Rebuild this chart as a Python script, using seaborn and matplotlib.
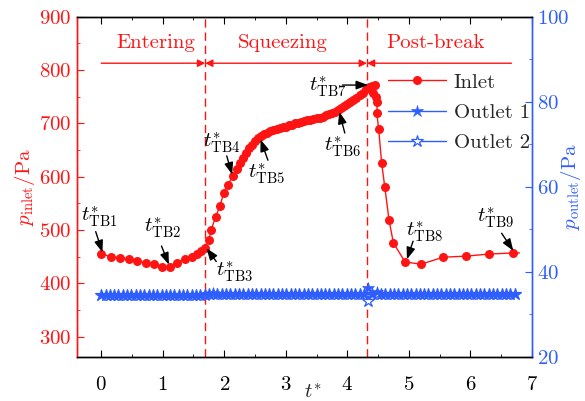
import matplotlib
matplotlib.use("Agg")
import matplotlib.pyplot as plt
import seaborn as sns
from matplotlib.ticker import MultipleLocator

# ---- data -------------------------------------------------------------
t_inlet = [0.00, 0.16, 0.31, 0.45, 0.58, 0.72, 0.85, 0.98, 1.11, 1.23, 1.36, 1.48,
           1.56, 1.63, 1.69, 1.75, 1.79, 1.86, 1.93, 1.99, 2.06, 2.14, 2.20, 2.25,
           2.30, 2.35, 2.40, 2.45, 2.50, 2.55, 2.60, 2.65, 2.70, 2.75, 2.80, 2.85,
           2.90, 2.95, 3.00, 3.05, 3.10, 3.15, 3.20, 3.25, 3.30, 3.35, 3.40, 3.45,
           3.50, 3.55, 3.60, 3.65, 3.70, 3.75, 3.80, 3.85, 3.90, 3.95, 4.00, 4.05,
           4.10, 4.15, 4.20, 4.25, 4.30, 4.35, 4.40, 4.45, 4.42, 4.46, 4.49, 4.48,
           4.51, 4.56, 4.61, 4.68, 4.75, 4.94, 5.20, 5.56, 5.93, 6.31, 6.70, 6.80]
p_inlet = [455, 450, 448, 445, 442, 439, 436, 431, 430, 439, 445, 450,
           455, 461, 467, 481, 501, 525, 545, 569, 585, 601, 615, 626,
           636, 645, 653, 660, 667, 673, 677, 680, 682, 685, 688, 689,
           692, 693, 694, 697, 698, 700, 701, 703, 704, 706, 707, 708,
           710, 711, 713, 715, 717, 719, 722, 726, 729, 732, 736, 740,
           744, 748, 753, 758, 764, 768, 771, 772, 758, 750, 741, 720,
           690, 625, 581, 518, 476, 440, 436, 449, 451, 455, 457, 457]

t_outlet = [0.00, 0.07, 0.14, 0.21, 0.28, 0.35, 0.42, 0.49, 0.56, 0.63, 0.70, 0.77,
            0.84, 0.91, 0.98, 1.05, 1.12, 1.19, 1.26, 1.33, 1.40, 1.47, 1.54, 1.61,
            1.68, 1.75, 1.82, 1.89, 1.96, 2.03, 2.10, 2.17, 2.24, 2.31, 2.38, 2.45,
            2.52, 2.59, 2.66, 2.73, 2.80, 2.87, 2.94, 3.01, 3.08, 3.15, 3.22, 3.29,
            3.36, 3.43, 3.50, 3.57, 3.64, 3.71, 3.78, 3.85, 3.92, 3.99, 4.06, 4.13,
            4.20, 4.27, 4.34, 4.41, 4.48, 4.55, 4.62, 4.69, 4.76, 4.83, 4.90, 4.97,
            5.04, 5.11, 5.18, 5.25, 5.32, 5.39, 5.46, 5.53, 5.60, 5.67, 5.74, 5.81,
            5.88, 5.95, 6.02, 6.09, 6.16, 6.23, 6.30, 6.37, 6.44, 6.51, 6.58, 6.65,
            6.72]
p_outlet1 = [34.6, 34.6, 34.6, 34.6, 34.6, 34.6, 34.6, 34.6, 34.6, 34.6, 34.6, 34.6,
             34.6, 34.6, 34.6, 34.6, 34.6, 34.6, 34.6, 34.6, 34.6, 34.6, 34.6, 34.6,
             34.7, 34.9, 35.0, 34.9, 34.9, 34.9, 34.9, 34.9, 34.9, 34.9, 34.9, 34.9,
             34.9, 34.9, 34.9, 34.9, 34.9, 34.9, 34.9, 34.9, 34.9, 34.9, 34.9, 34.9,
             34.9, 34.9, 34.9, 34.9, 34.9, 34.9, 34.9, 34.9, 34.9, 34.9, 34.9, 34.9,
             34.9, 34.9, 36.2, 34.9, 35.3, 34.9, 34.9, 34.9, 34.9, 34.9, 34.9, 34.9,
             34.9, 34.9, 34.9, 34.9, 34.9, 34.9, 34.9, 34.9, 34.9, 34.9, 34.9, 34.9,
             34.9, 34.9, 34.9, 34.9, 34.9, 34.9, 34.9, 34.9, 34.9, 34.9, 34.9, 34.9,
             34.9]
p_outlet2 = [34.6, 34.6, 34.6, 34.6, 34.6, 34.6, 34.6, 34.6, 34.6, 34.6, 34.6, 34.6,
             34.6, 34.6, 34.6, 34.6, 34.6, 34.6, 34.6, 34.6, 34.6, 34.6, 34.6, 34.6,
             34.6, 34.8, 34.8, 34.8, 34.8, 34.8, 34.8, 34.8, 34.8, 34.8, 34.8, 34.8,
             34.8, 34.8, 34.8, 34.8, 34.8, 34.8, 34.8, 34.8, 34.8, 34.8, 34.8, 34.8,
             34.8, 34.8, 34.8, 34.8, 34.8, 34.8, 34.8, 34.8, 34.8, 34.8, 34.8, 34.8,
             34.8, 34.8, 33.1, 34.8, 34.8, 34.8, 34.8, 34.8, 34.8, 34.8, 34.8, 34.8,
             34.8, 34.8, 34.8, 34.8, 34.8, 34.8, 34.8, 34.8, 34.8, 34.8, 34.8, 34.8,
             34.8, 34.8, 34.8, 34.8, 34.8, 34.8, 34.8, 34.8, 34.8, 34.8, 34.8, 34.8,
             34.8]

# stage boundaries and stage names
t_bounds = [1.69, 4.32]
stage_names = ["Entering", "Squeezing", "Post-break"]
stage_x = [0.88, 2.95, 5.43]

# characteristic moments: label, arrow tip on the curve, arrow tail, text centre
tb_labels = ["TB1", "TB2", "TB3", "TB4", "TB5", "TB6", "TB7", "TB8", "TB9"]
tb_tips = [(0.02, 458), (1.10, 435), (1.71, 466), (2.13, 604), (2.59, 670),
           (3.87, 722), (4.34, 772), (4.97, 445), (6.70, 461)]
tb_tails = [(-0.09, 497), (0.98, 470), (1.87, 441), (2.04, 639), (2.71, 631),
            (3.96, 682), (3.92, 772), (5.07, 479), (6.51, 494)]
tb_text = [(-0.04, 524), (1.00, 504), (2.17, 422), (1.95, 663), (2.69, 606),
           (3.93, 656), (3.69, 769), (5.25, 497), (6.41, 522)]

RED = "#ff1414"
BLUE = "#2f5eff"
FS = 15

# ---- style ------------------------------------------------------------
sns.set_style("ticks")
plt.rcParams.update({
    "font.family": "serif",
    "font.serif": ["cmr10", "DejaVu Serif"],
    "mathtext.fontset": "cm",
    "axes.formatter.use_mathtext": True,
    "font.size": FS,
    "xtick.direction": "in",
    "ytick.direction": "in",
    "axes.linewidth": 1.0,
})

fig = plt.figure(figsize=(5.85, 4.01), dpi=100)
ax = fig.add_axes([0.131, 0.110, 0.778, 0.848])
ax2 = ax.twinx()

# inlet pressure (left axis)
n_in = len(t_inlet)
sns.lineplot(x=t_inlet, y=p_inlet, ax=ax, sort=False, estimator=None,
             color=RED, lw=1.0, marker="o", markersize=6.5, markeredgewidth=0,
             markevery=list(range(n_in - 1)), label="Inlet", legend=False)

# outlet pressures (right axis)
sns.lineplot(x=t_outlet, y=p_outlet2, ax=ax2, sort=False, estimator=None,
             color=BLUE, lw=1.0, marker="*", markersize=9,
             markerfacecolor="white", markeredgecolor=BLUE, markeredgewidth=0.9,
             label="Outlet 2", legend=False)
sns.lineplot(x=t_outlet, y=p_outlet1, ax=ax2, sort=False, estimator=None,
             color=BLUE, lw=1.0, marker="*", markersize=9,
             markeredgecolor=BLUE, markeredgewidth=0.5,
             label="Outlet 1", legend=False)

# axis ranges and ticks
ax.set_xlim(-0.4, 7.0)
ax.set_ylim(262, 900)
ax2.set_ylim(20, 100)
ax.xaxis.set_major_locator(MultipleLocator(1))
ax.xaxis.set_minor_locator(MultipleLocator(0.5))
ax.yaxis.set_major_locator(MultipleLocator(100))
ax.yaxis.set_minor_locator(MultipleLocator(50))
ax2.yaxis.set_major_locator(MultipleLocator(20))
ax2.yaxis.set_minor_locator(MultipleLocator(10))

ax.tick_params(axis="x", which="both", top=True, bottom=True, colors="black",
               labelsize=FS)
ax.tick_params(axis="x", which="major", length=5, pad=14)
ax.tick_params(axis="x", which="minor", length=2.5)
ax.tick_params(axis="y", which="both", colors=RED, labelcolor=RED, labelsize=FS)
ax.tick_params(axis="y", which="major", length=5)
ax.tick_params(axis="y", which="minor", length=2.5)
ax2.tick_params(axis="y", which="both", colors=BLUE, labelcolor=BLUE, labelsize=FS)
ax2.tick_params(axis="y", which="major", length=5)
ax2.tick_params(axis="y", which="minor", length=2.5)

for a in (ax, ax2):
    a.spines["left"].set_color(RED)
    a.spines["right"].set_color(BLUE)
    a.spines["top"].set_color("black")
    a.spines["bottom"].set_color("black")
    for s in a.spines.values():
        s.set_visible(True)
        s.set_linewidth(1.0)

ax.set_xlabel(r"$t^{*}$", fontsize=FS)
ax.xaxis.set_label_coords(0.519, -0.078)
ax.set_ylabel(r"$p_{\rm inlet}$/Pa", color=RED, fontsize=FS, labelpad=2)
ax2.set_ylabel(r"$p_{\rm outlet}$/Pa", color=BLUE, fontsize=FS, labelpad=-7)

# stage boundaries
for tb in t_bounds:
    ax.axvline(tb, color=RED, lw=1.0, ls=(0, (6, 3.5)), zorder=1)

y_stage = 813
arrow_kw = dict(color=RED, lw=1.0, shrinkA=0, shrinkB=0, mutation_scale=11)
ax.annotate("", xy=(t_bounds[0], y_stage), xytext=(0.0, y_stage),
            arrowprops=dict(arrowstyle="-|>", **arrow_kw))
ax.annotate("", xy=(t_bounds[1], y_stage), xytext=(t_bounds[0], y_stage),
            arrowprops=dict(arrowstyle="<|-|>", **arrow_kw))
ax.annotate("", xy=(t_bounds[1], y_stage), xytext=(6.67, y_stage),
            arrowprops=dict(arrowstyle="-|>", **arrow_kw))
for name, xs in zip(stage_names, stage_x):
    ax.text(xs, 851, name, color=RED, ha="center", va="center", fontsize=FS)

# characteristic moment annotations
for lab, tip, tail, tx in zip(tb_labels, tb_tips, tb_tails, tb_text):
    ax.text(tx[0], tx[1], r"$t^{*}_{\rm %s}$" % lab, ha="center", va="center",
            fontsize=FS, color="black", zorder=6)
    ax.annotate("", xy=tip, xytext=tail,
                arrowprops=dict(arrowstyle="-|>,head_length=0.6,head_width=0.22",
                                color="black", lw=1.0, shrinkA=0, shrinkB=0,
                                mutation_scale=12),
                zorder=6)

# combined legend
h1, l1 = ax.get_legend_handles_labels()
h2, l2 = ax2.get_legend_handles_labels()
handles = h1 + [h2[1], h2[0]]
labels = l1 + [l2[1], l2[0]]
ax2.legend(handles, labels, loc="upper left", bbox_to_anchor=(0.684, 0.835),
           frameon=False, fontsize=FS, handlelength=2.8, handletextpad=0.35,
           labelspacing=0.57, borderaxespad=0, borderpad=0)

fig.savefig("out.png", dpi=100)
